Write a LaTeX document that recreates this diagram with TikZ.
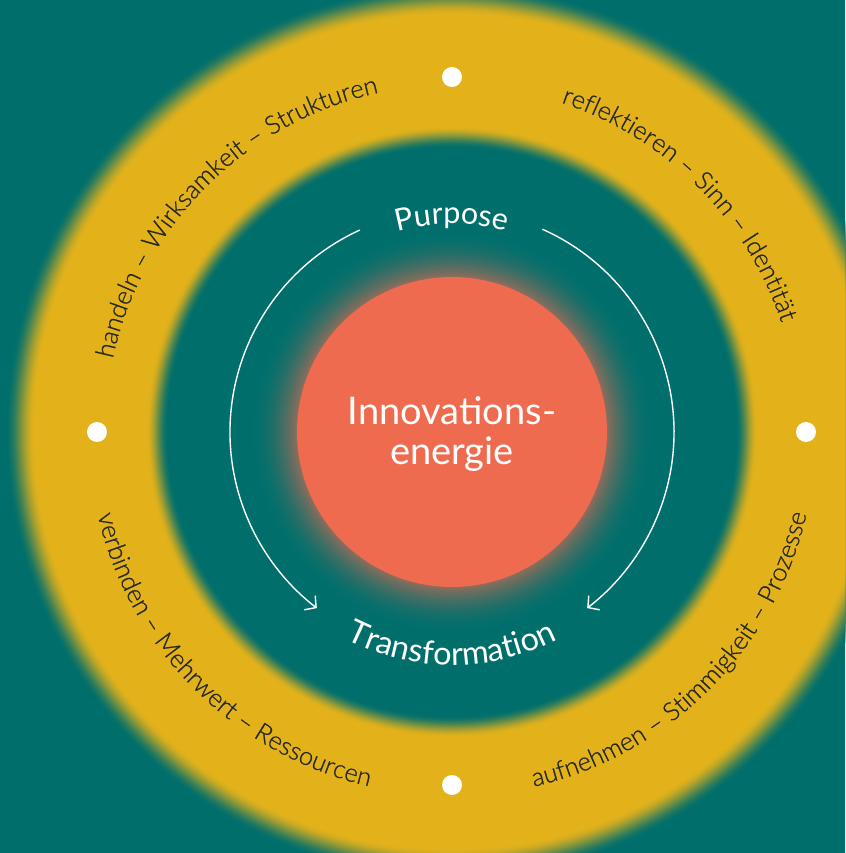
\documentclass[tikz,border=0pt]{standalone}
\usepackage{fontspec}
\usetikzlibrary{decorations.text,arrows.meta}
\newfontfamily\regfont{Lato}
\newfontfamily\lightfont{Lato Light}[FakeBold=0.6]
\definecolor{cT}{RGB}{0,111,108}
\definecolor{cY}{RGB}{227,178,27}
\definecolor{cR}{RGB}{239,107,80}
\definecolor{cTxt}{RGB}{38,40,34}
\tikzset{
  outertext/.style={decorate,decoration={text along path,text align=center,
     text={|\lightfont\fontsize{25.5}{25.5}\selectfont\color{cTxt}|#1}}},
  innertext/.style 2 args={decorate,decoration={text along path,text align=center,
     text={|\regfont\fontsize{#1}{#1}\selectfont\color{white}|#2}}},
  dotnode/.style={circle,fill=white,draw=none,minimum size=20pt,inner sep=0pt},
  cyclearrow/.style={draw=white,line width=1.4pt,-{Straight Barb[length=8pt,width=18pt,line width=1.4pt]}}
}
\begin{document}
\begin{tikzpicture}
\useasboundingbox (-452pt,-421pt) rectangle (393pt,432pt);
\clip (-452pt,-421pt) rectangle (393pt,432pt);
\fill[cT] (-452pt,-421pt) rectangle (393pt,432pt);
% yellow ring with outer glow
\foreach \i in {0,...,40}{
  \pgfmathsetmacro\t{\i/40}
  \pgfmathsetmacro\r{417+30*(1-\t)}
  \pgfmathsetmacro\p{100*\t*\t*(3-2*\t)}
  \fill[cY!\p!cT] (0,0) circle[radius=\r pt];
}
% inner teal disc with soft edge
\foreach \i in {0,...,30}{
  \pgfmathsetmacro\t{\i/30}
  \pgfmathsetmacro\r{306-22*\t}
  \pgfmathsetmacro\p{100*\t*\t*(3-2*\t)}
  \fill[cT!\p!cY] (0,0) circle[radius=\r pt];
}
% red glow
\foreach \i in {0,...,40}{
  \pgfmathsetmacro\t{\i/40}
  \pgfmathsetmacro\r{203-47*\t}
  \pgfmathsetmacro\p{58*\t*\t}
  \fill[cR!\p!cT] (0,0) circle[radius=\r pt];
}
\fill[cR] (0,0) circle[radius=155pt];
\node[text=white,align=center,font=\regfont\fontsize{38}{40}\selectfont] (core) at (0,-2pt) {Innovations-\\energie};
% dots
\node[dotnode] (dtop) at (90:355pt) {};
\node[dotnode] (dleft) at (180:355pt) {};
\node[dotnode] (dright) at (0:354pt) {};
\node[dotnode] (dbottom) at (270:353pt) {};
% outer texts
\path[outertext={handeln – Wirksamkeit – Strukturen}] (215:347pt) arc[start angle=215,end angle=55,radius=347pt];
\path[outertext={reflektieren – Sinn – Identität}] (125:347pt) arc[start angle=125,end angle=-35,radius=347pt];
\path[outertext={verbinden – Mehrwert – Ressourcen}] (145:364pt) arc[start angle=145,end angle=305,radius=364pt];
\path[outertext={aufnehmen – Stimmigkeit – Prozesse}] (235:364pt) arc[start angle=235,end angle=395,radius=364pt];
% inner labels
\path[innertext={30.5}{Purpose}] (160:208pt) arc[start angle=160,end angle=20,radius=208pt];
\path[innertext={32.5}{Transformation}] (200:233pt) arc[start angle=200,end angle=340,radius=233pt];
% arrows
\coordinate (la) at (114.5:222pt);
\coordinate (ra) at (66:222pt);
\draw[cyclearrow] (la) arc[start angle=114.5,end angle=232.5,radius=222pt];
\draw[cyclearrow] (ra) arc[start angle=66,end angle=-52.5,radius=222pt];
\end{tikzpicture}
\end{document}
